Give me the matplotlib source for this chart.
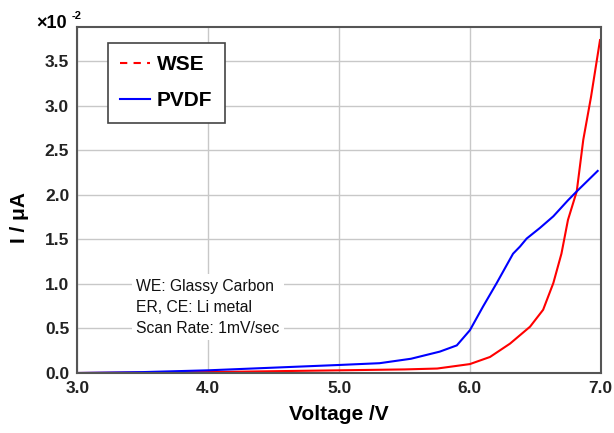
import matplotlib
matplotlib.use("Agg")
from matplotlib import pyplot as plt
from matplotlib.lines import Line2D

plt.rcParams['font.family'] = ['Liberation Sans', 'DejaVu Sans']

# voltage (V) and current (x1e-2 uA)
wse_v = [3.0, 3.5, 4.0, 4.5, 5.0, 5.5, 5.75, 6.0, 6.154, 6.307, 6.46, 6.56, 6.638, 6.70,
         6.75, 6.796, 6.817, 6.867, 6.926, 6.995]
wse_i = [0.0, 0.005, 0.01, 0.02, 0.03, 0.04, 0.05, 0.10, 0.18, 0.33, 0.52, 0.71, 1.01, 1.34,
         1.72, 1.94, 2.04, 2.62, 3.10, 3.74]

pvdf_v = [3.0, 3.5, 4.0, 4.5, 5.0, 5.31, 5.55, 5.77, 5.9, 6.0, 6.1, 6.205, 6.33, 6.383,
          6.434, 6.536, 6.638, 6.75, 6.817, 6.977]
pvdf_i = [0.0, 0.01, 0.03, 0.06, 0.09, 0.11, 0.16, 0.24, 0.31, 0.48, 0.745, 1.01, 1.34, 1.42,
          1.51, 1.63, 1.76, 1.94, 2.04, 2.27]

x_ticks = [3.0, 4.0, 5.0, 6.0, 7.0]
y_ticks = [0.0, 0.5, 1.0, 1.5, 2.0, 2.5, 3.0, 3.5]

fig = plt.figure(figsize=(6.14, 4.33), dpi=100)
ax = fig.add_axes([0.1262, 0.1386, 0.8521, 0.7997])

ax.plot(wse_v, wse_i, color='#ff0000', lw=1.5, label='WSE')
ax.plot(pvdf_v, pvdf_i, color='#0000ff', lw=1.5, label='PVDF')

ax.set_xlim(3.0, 7.0)
ax.set_ylim(0.0, 3.89)
ax.set_xticks(x_ticks)
ax.set_yticks(y_ticks)
ax.set_xticklabels([f'{t:.1f}' for t in x_ticks], fontweight='bold', fontsize=12.5)
ax.set_yticklabels([f'{t:.1f}' for t in y_ticks], fontweight='bold', fontsize=12.5)
ax.tick_params(length=0, pad=6, colors='#222222')
ax.grid(True, color='#c8c8c8', lw=1.0)
ax.set_axisbelow(True)
for s in ax.spines.values():
    s.set_color('#555555')
    s.set_linewidth(1.5)

ax.set_xlabel('Voltage /V', fontweight='bold', fontsize=15, labelpad=6)
ax.set_ylabel('I / \u03bcA', fontweight='bold', fontsize=15)
ax.yaxis.set_label_coords(-0.093, 0.45)

fig.text(0.0586, 0.935, '\u00d710', fontweight='bold', fontsize=13, va='baseline')
fig.text(0.117, 0.956, '-2', fontweight='bold', fontsize=8, va='baseline')

# legend: red entry drawn dashed
handles = [Line2D([], [], color='#ff0000', lw=1.5, ls=(0, (3.5, 3))),
           Line2D([], [], color='#0000ff', lw=1.5)]
leg = ax.legend(handles, ['WSE', 'PVDF'], loc='upper left', bbox_to_anchor=(0.0583, 0.953),
                borderaxespad=0, prop={'weight': 'bold', 'size': 15}, frameon=True,
                fancybox=False, edgecolor='#444444', framealpha=1, handlelength=1.4,
                handletextpad=0.35, borderpad=0.6, labelspacing=0.8)
leg.get_frame().set_linewidth(1.2)

notes = ['WE: Glassy Carbon', 'ER, CE: Li metal', 'Scan Rate: 1mV/sec']
ax.text(0.112, 0.19, '\n'.join(notes), transform=ax.transAxes, fontsize=11.3,
        linespacing=1.5, va='center', ha='left', color='#111111',
        bbox=dict(facecolor='white', edgecolor='none', pad=3))

plt.savefig('out.png', dpi=100)
